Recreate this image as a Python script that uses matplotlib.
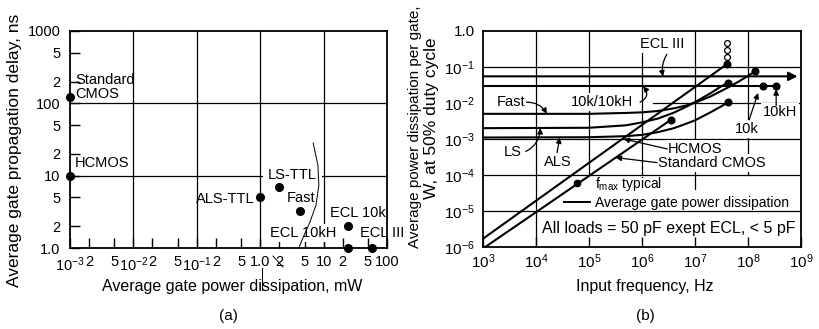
import matplotlib
matplotlib.use("Agg")
import matplotlib.pyplot as plt
from matplotlib.lines import Line2D
import numpy as np

plt.rcParams["font.family"] = ["Liberation Sans", "DejaVu Sans"]
plt.rcParams["mathtext.fontset"] = "custom"
plt.rcParams["mathtext.rm"] = "Liberation Sans"
plt.rcParams["mathtext.it"] = "Liberation Sans:italic"
plt.rcParams["mathtext.default"] = "regular"

# ---------------- (a) propagation delay vs. gate power ----------------
families_a = ["Standard CMOS", "HCMOS", "ALS-TTL", "LS-TTL", "Fast",
              "ECL 10k", "ECL 10kH", "ECL III"]
power_mw = [1e-3, 1e-3, 1.0, 2.0, 4.2, 24.0, 24.0, 57.0]
delay_ns = [122.0, 10.0, 5.0, 7.0, 3.2, 2.0, 1.0, 1.0]

xticks_a = [1e-3, 2e-3, 5e-3, 1e-2, 2e-2, 5e-2, 1e-1, 2e-1, 5e-1,
            1.0, 2.0, 5.0, 10.0, 20.0, 50.0, 100.0]
xlabels_a = ["$10^{-3}$", "2", "5", "$10^{-2}$", "2", "5", "$10^{-1}$", "2", "5",
             "1.0", "2", "5", "10", "2", "5", "100"]
yticks_a = [1, 2, 5, 10, 20, 50, 100, 200, 500, 1000]
ylabels_a = ["1.0", "2", "5", "10", "2", "5", "100", "2", "5", "1000"]

# ---------------- (b) power per gate vs. input frequency ----------------
hcmos_f = [1e3, 4e7]
hcmos_p = [1.7e-6, 0.12]
cmos_f = [1.1e3, 3.5e6]
cmos_p = [1.0e-6, 3.4e-3]

fast_f = [1e3, 1e5, 5e5, 1e6, 2e6, 4e6, 7e6, 1e7, 2e7, 4e7, 7e7, 1.35e8]
fast_p = [5e-3, 5e-3, 5.3e-3, 5.5e-3, 6.0e-3, 7.1e-3, 8.6e-3, 1.02e-2,
          1.54e-2, 2.6e-2, 4.1e-2, 7.5e-2]
ls_f = [1e3, 1e5, 5e5, 1e6, 2e6, 4e6, 7e6, 1e7, 2e7, 3e7, 4.2e7]
ls_p = [2e-3, 2.05e-3, 2.4e-3, 2.9e-3, 3.7e-3, 5.4e-3, 8.0e-3, 1.06e-2,
        1.9e-2, 2.8e-2, 3.7e-2]
als_f = [1e3, 1e5, 5e5, 1e6, 2e6, 4e6, 7e6, 1e7, 2e7, 3e7, 4.2e7]
als_p = [1.1e-3, 1.12e-3, 1.2e-3, 1.3e-3, 1.55e-3, 2.0e-3, 2.7e-3, 3.3e-3,
         5.6e-3, 7.8e-3, 1.05e-2]
ecl3_f = [1e3, 8.6e8]
ecl3_p = [0.055, 0.055]
ecl10k_f = [1e3, 3.4e8]
ecl10k_p = [0.029, 0.029]

fmax_f = [4e7, 3.5e6, 1.35e8, 4.2e7, 4.2e7, 1.95e8, 3.4e8]
fmax_p = [0.12, 3.4e-3, 7.5e-2, 3.7e-2, 1.05e-2, 0.029, 0.029]
hcmos_open_f = [4e7, 4e7, 4e7]
hcmos_open_p = [0.19, 0.29, 0.46]

xticks_b = [1e3, 1e4, 1e5, 1e6, 1e7, 1e8, 1e9]
xlabels_b = ["$10^{3}$", "$10^{4}$", "$10^{5}$", "$10^{6}$", "$10^{7}$",
             "$10^{8}$", "$10^{9}$"]
yticks_b = [1e-6, 1e-5, 1e-4, 1e-3, 1e-2, 1e-1, 1.0]
ylabels_b = ["$10^{-6}$", "$10^{-5}$", "$10^{-4}$", "$10^{-3}$", "$10^{-2}$",
             "$10^{-1}$", "1.0"]

W, H = 820, 329
fig = plt.figure(figsize=(W / 100, H / 100), dpi=100)


def box(l, t, r, b):
    return [l / W, 1 - b / H, (r - l) / W, (b - t) / H]


ax_a = fig.add_axes(box(70, 31, 387, 248))
ax_b = fig.add_axes(box(483, 31, 801, 247))

FS = 10.5
white = dict(facecolor="white", edgecolor="none", pad=1.5)

# ---- panel (a) ----
ax = ax_a
ax.set_xscale("log")
ax.set_yscale("log")
ax.set_xlim(1e-3, 100)
ax.set_ylim(1, 1000)
for x in [1e-2, 1e-1, 1.0, 10.0]:
    ax.axvline(x, color="k", lw=0.9, zorder=1)
for y in [10, 100]:
    ax.axhline(y, color="k", lw=0.9, zorder=1)
ax.plot(power_mw, delay_ns, "o", color="k", ms=5.5, clip_on=False, zorder=4)
ax.set_xticks(xticks_a)
ax.set_xticklabels(xlabels_a)
ax.set_yticks(yticks_a)
ax.set_yticklabels(ylabels_a)
ax.minorticks_off()
ax.tick_params(axis="x", direction="in", length=7, width=1.0, labelsize=10.5,
               pad=5)
ax.tick_params(axis="y", direction="in", length=7, width=1.0, labelsize=10.5,
               pad=7)
for s in ax.spines.values():
    s.set_linewidth(1.3)

ax.text(1.2e-3, 168, "Standard\nCMOS", fontsize=FS, ha="left", va="center",
        linespacing=1.05, zorder=2)
ax.text(1.2e-3, 14.9, "HCMOS", fontsize=FS, ha="left", va="center", zorder=2)
ax.text(0.83, 4.8, "ALS-TTL", fontsize=FS, ha="right", va="center", zorder=2)
ax.text(1.33, 10.2, "LS-TTL", fontsize=FS, ha="left", va="center", zorder=2,
        bbox=dict(facecolor="white", edgecolor="none", pad=4))
ax.text(2.65, 4.9, "Fast", fontsize=FS, ha="left", va="center", zorder=2)
ax.text(12.6, 3.0, "ECL 10k", fontsize=FS, ha="left", va="center", zorder=2)
ax.text(1.43, 1.62, "ECL 10kH", fontsize=FS, ha="left", va="center", zorder=2,
        bbox=white)
ax.text(37, 1.62, "ECL III", fontsize=FS, ha="left", va="center", zorder=2,
        clip_on=False)

# faint curved stroke across the right of the panel
arc_x = [0.767, 0.782, 0.785, 0.776, 0.757, 0.732, 0.722]
arc_y = [0.484, 0.382, 0.290, 0.198, 0.120, 0.037, 0.0]
ax.plot(arc_x, arc_y, color="k", lw=0.7, transform=ax.transAxes, zorder=2)

# ---- panel (b) ----
ax = ax_b
ax.set_xscale("log")
ax.set_yscale("log")
ax.set_xlim(1e3, 1e9)
ax.set_ylim(1e-6, 1.0)


def yfrac(v):
    return (np.log10(v) + 6) / 6


for x in [1e4]:
    ax.axvline(x, color="k", lw=0.9, zorder=1)
for x in [1e5, 1e8]:
    ax.axvline(x, ymin=yfrac(1e-4), color="k", lw=0.9, zorder=1)
ax.axvline(1e6, ymin=yfrac(1e-4), ymax=yfrac(0.45), color="k", lw=0.9, zorder=1)
ax.axvline(1e7, ymin=yfrac(4.2e-5), color="k", lw=0.9, zorder=1)
for y in [1e-5, 1e-4, 1e-3, 1e-1]:
    ax.axhline(y, color="k", lw=0.9, zorder=1)
ax.axhline(1e-2, xmin=0.535, color="k", lw=0.9, zorder=1)

LW = 1.5
ax.plot(hcmos_f, hcmos_p, color="k", lw=LW, zorder=3)
ax.plot(cmos_f, cmos_p, color="k", lw=LW, zorder=3)
ax.plot(fast_f, fast_p, color="k", lw=LW, zorder=3)
ax.plot(ls_f, ls_p, color="k", lw=LW, zorder=3)
ax.plot(als_f, als_p, color="k", lw=LW, zorder=3)
ax.plot(ecl10k_f, ecl10k_p, color="k", lw=LW, zorder=3)
ax.annotate("", xy=(ecl3_f[1], ecl3_p[1]), xytext=(ecl3_f[0], ecl3_p[0]),
            arrowprops=dict(arrowstyle="-|>", lw=LW, color="k",
                            mutation_scale=13, shrinkA=0, shrinkB=0), zorder=3)
ax.plot(fmax_f, fmax_p, "o", color="k", ms=4.8, zorder=4)
ax.plot(hcmos_open_f, hcmos_open_p, "o", mfc="white", mec="k", mew=0.9,
        ms=4.2, zorder=4)

ax.set_xticks(xticks_b)
ax.set_xticklabels(xlabels_b)
ax.set_yticks(yticks_b)
ax.set_yticklabels(ylabels_b)
ax.minorticks_off()
ax.tick_params(axis="x", direction="in", length=7, width=1.0, labelsize=11, pad=4)
ax.tick_params(axis="y", direction="in", length=0, labelsize=11, pad=6)
for s in ax.spines.values():
    s.set_linewidth(1.3)

arw = dict(arrowstyle="-|>", lw=0.9, color="k", mutation_scale=8,
           shrinkA=0, shrinkB=0)

ax.text(2.36e6, 0.44, "ECL III", fontsize=FS, ha="center", va="center",
        zorder=2, bbox=white)
ax.annotate("", xy=(2.5e6, 0.055), xytext=(2.95e6, 0.225),
            arrowprops=dict(arw, connectionstyle="arc3,rad=0.2"), zorder=3)

ax.text(1.74e5, 0.0105, "10k/10kH", fontsize=FS, ha="center", va="center",
        zorder=2, bbox=white)
ax.annotate("", xy=(1.05e6, 0.029), xytext=(9.2e5, 0.0105),
            arrowprops=dict(arw, connectionstyle="arc3,rad=0.6"), zorder=3)

ax.text(3.4e3, 0.0105, "Fast", fontsize=FS, ha="center", va="center",
        zorder=2, bbox=white)
ax.annotate("", xy=(1.6e4, 5e-3), xytext=(6.6e3, 0.0105),
            arrowprops=dict(arw, connectionstyle="arc3,rad=-0.3"), zorder=3)

ax.text(3.6e3, 4.3e-4, "LS", fontsize=FS, ha="center", va="center",
        zorder=2, bbox=white)
ax.annotate("", xy=(1.2e4, 2e-3), xytext=(6.4e3, 4.5e-4),
            arrowprops=dict(arw, connectionstyle="arc3,rad=0.3"), zorder=3)

ax.text(2.6e4, 2.3e-4, "ALS", fontsize=FS, ha="center", va="center",
        zorder=2, bbox=white)
ax.annotate("", xy=(2.8e4, 1.1e-3), xytext=(2.5e4, 4.2e-4),
            arrowprops=dict(arw, connectionstyle="arc3,rad=0.0"), zorder=3)

ax.text(3.1e6, 5.3e-4, "HCMOS", fontsize=FS, ha="left", va="center",
        zorder=2, bbox=white)
ax.annotate("", xy=(4.5e5, 1.0e-3), xytext=(3.0e6, 5.3e-4),
            arrowprops=dict(arw), zorder=3)

ax.text(2.0e6, 2.2e-4, "Standard CMOS", fontsize=FS, ha="left", va="center",
        zorder=2, bbox=white)
ax.annotate("", xy=(3.2e5, 3.05e-4), xytext=(1.95e6, 2.2e-4),
            arrowprops=dict(arw), zorder=3)

ax.text(9.4e7, 1.9e-3, "10k", fontsize=FS, ha="center", va="center",
        zorder=2, bbox=white)
ax.annotate("", xy=(1.55e8, 0.019), xytext=(1.05e8, 3.4e-3),
            arrowprops=dict(arw), zorder=3)

ax.text(4.0e8, 5.5e-3, "10kH", fontsize=FS, ha="center", va="center",
        zorder=2, bbox=white)
ax.annotate("", xy=(3.4e8, 0.024), xytext=(3.4e8, 8.5e-3),
            arrowprops=dict(arw), zorder=3)

handles = [Line2D([], [], marker="o", ls="none", color="k", ms=4.5),
           Line2D([], [], color="k", lw=1.4)]
leg = ax.legend(handles, ["f$_{max}$ typical", "Average gate power dissipation"],
                loc="upper left", bbox_to_anchor=(0.255, 0.335), frameon=False,
                fontsize=10, handlelength=1.9, handletextpad=0.3,
                labelspacing=0.25, borderpad=0.0, borderaxespad=0.0)
leg.set_zorder(5)
ax.text(0.585, 0.085, "All loads = 50 pF exept ECL, < 5 pF", fontsize=11.5,
        ha="center", va="center", transform=ax.transAxes, zorder=2)

# ---- figure-level titles ----
fig.text(232 / W, 1 - 287 / H, "Average gate power dissipation, mW",
         fontsize=11.5, ha="center", va="center")
fig.text(15 / W, 1 - 150 / H, "Average gate propagation delay, ns",
         fontsize=12.5, ha="center", va="center", rotation=90)
fig.text(228 / W, 1 - 316 / H, "(a)", fontsize=11, ha="center", va="center")

fig.text(645 / W, 1 - 287 / H, "Input frequency, Hz",
         fontsize=11.5, ha="center", va="center")
fig.text(415 / W, 1 - 127 / H, "Average power dissipation per gate,",
         fontsize=11, ha="center", va="center", rotation=90)
fig.text(432 / W, 1 - 118 / H, "W, at 50% duty cycle",
         fontsize=12.5, ha="center", va="center", rotation=90)
fig.text(645 / W, 1 - 316 / H, "(b)", fontsize=11, ha="center", va="center")

# small pen strokes under the (a) axis
fig.add_artist(Line2D([262 / W, 262 / W], [1 - 268 / H, 1 - 290 / H],
                      color="k", lw=0.7))
fig.add_artist(Line2D([273 / W, 283 / W], [1 - 256 / H, 1 - 267 / H],
                      color="k", lw=0.7))

fig.savefig("out.png", dpi=100)
